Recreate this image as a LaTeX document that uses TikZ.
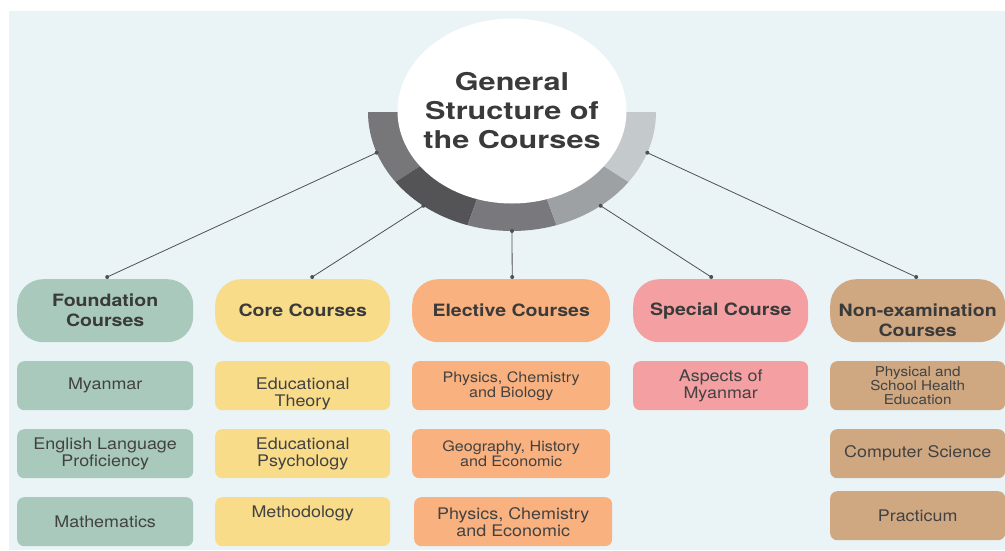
\documentclass[tikz,border=0pt]{standalone}
\usepackage{fontspec}
\setmainfont{TeX Gyre Heros}[FakeStretch=1.12]
\newfontfamily\hfont{TeX Gyre Heros}[FakeStretch=1.15]
\newfontfamily\tfont{TeX Gyre Heros}[FakeStretch=1.25]
\usetikzlibrary{shapes.geometric,calc}
\definecolor{bg}{HTML}{EAF4F6}
\definecolor{sA}{HTML}{77777A}
\definecolor{sB}{HTML}{545457}
\definecolor{sC}{HTML}{79797D}
\definecolor{sD}{HTML}{9EA1A4}
\definecolor{sE}{HTML}{C4C9CB}
\definecolor{cF}{HTML}{A8C9BB}
\definecolor{cC}{HTML}{F8DC8A}
\definecolor{cE}{HTML}{F8B17F}
\definecolor{cS}{HTML}{F4A0A3}
\definecolor{cN}{HTML}{CFA882}
\definecolor{txt}{HTML}{3A3A3A}
\definecolor{txtb}{HTML}{424242}
\definecolor{linec}{HTML}{505050}
\newcommand{\upstrut}[1]{\rule{0pt}{#1}}
\begin{document}
\begin{tikzpicture}[x=1pt,y=1pt,
  hdr/.style={rounded corners=26pt, minimum height=63pt, inner sep=0pt, anchor=north west, align=center, text=txt, font=\hfont\bfseries\fontsize{17}{20}\selectfont},
  sub/.style={rounded corners=7pt, minimum height=49pt, inner sep=0pt, anchor=north west, align=center, text=txtb, font=\fontsize{16}{17}\selectfont},
  small/.style={font=\fontsize{14.4}{15}\selectfont},
  tiny/.style={font=\fontsize{13.6}{14}\selectfont},
  conn/.style={draw=linec, line width=0.8pt},
  dot/.style={fill=linec}
]
\useasboundingbox (0,0) rectangle (1005,-550);
\fill[bg] (9,-11) rectangle (1005,-550);

% ring segments
\foreach \a/\c in {180/sA,216/sB,252/sC,288/sD,324/sE}{
  \pgfmathsetmacro\b{\a+36}
  \fill[\c] ({512+144*cos(\a)},{-112+119*sin(\a)}) arc[start angle=\a,end angle=\b,x radius=144pt,y radius=119pt]
    -- ({512+100*cos(\b)},{-112+80*sin(\b)}) arc[start angle=\b,end angle=\a,x radius=100pt,y radius=80pt] -- cycle;
}
\node[ellipse, fill=white, minimum width=229pt, minimum height=185pt, inner sep=0pt] (circ) at (512,-111) {};
\node[align=center, text=txt, inner sep=0pt,
  font=\tfont\bfseries\fontsize{24.5}{29}\selectfont] (title) at (circ.center) {General\\Structure of\\the Courses};

% ring anchor points
\coordinate (r1) at ({512+144*cos(200)},{-112+119*sin(200)});
\coordinate (r2) at ({512+144*cos(232)},{-112+119*sin(232)});
\coordinate (r3) at ({512+144*cos(270)},{-112+119*sin(270)});
\coordinate (r4) at ({512+144*cos(308)},{-112+119*sin(308)});
\coordinate (r5) at ({512+144*cos(340)},{-112+119*sin(340)});

% headers
\node[hdr, fill=cF, minimum width=176pt] (found) at (17,-279) {Foundation\\Courses};
\node[hdr, fill=cC, minimum width=175pt] (core) at (215,-279) {Core Courses};
\node[hdr, fill=cE, minimum width=198pt] (elec) at (412,-279) {Elective Courses};
\node[hdr, fill=cS, minimum width=175pt] (spec) at (633,-279) {Special Course};
\node[hdr, fill=cN, minimum width=175pt] (nonex) at (830,-279) {\upstrut{31pt}Non-examination\\Courses};

% column 1
\node[sub, fill=cF, minimum width=176pt] (f1) at (17,-361) {Myanmar};
\node[sub, fill=cF, minimum width=176pt] (f2) at (17,-429) {English Language\\Proficiency};
\node[sub, fill=cF, minimum width=176pt] (f3) at (17,-497) {Mathematics};
% column 2
\node[sub, fill=cC, minimum width=175pt] (c1) at (215,-361) {\upstrut{28pt}Educational\\Theory};
\node[sub, fill=cC, minimum width=175pt] (c2) at (215,-429) {Educational\\Psychology};
\node[sub, fill=cC, minimum width=175pt, text depth=20pt] (c3) at (215,-497) {Methodology};
% column 3
\node[sub, small, fill=cE, minimum width=198pt] (e1) at (412,-361) {Physics, Chemistry\\and Biology};
\node[sub, small, fill=cE, minimum width=198pt] (e2) at (412,-429) {Geography, History\\and Economic};
\node[sub, fill=cE, minimum width=198pt] (e3) at (414,-497) {Physics, Chemistry\\and Economic};
% column 4
\node[sub, fill=cS, minimum width=175pt] (s1) at (633,-361) {Aspects of\\Myanmar};
% column 5
\node[sub, tiny, fill=cN, minimum width=175pt] (n1) at (830,-361) {Physical and\\School Health\\Education};
\node[sub, fill=cN, minimum width=175pt] (n2) at (830,-429) {Computer Science};
\node[sub, fill=cN, minimum width=175pt] (n3) at (830,-491) {Practicum};

% connectors
\coordinate (h1) at ([xshift=2pt,yshift=2pt]found.north);
\coordinate (h2) at ([xshift=9.5pt,yshift=2pt]core.north);
\coordinate (h3) at ([xshift=1pt,yshift=2pt]elec.north);
\coordinate (h4) at ([xshift=-9.5pt,yshift=2pt]spec.north);
\coordinate (h5) at ([xshift=-1.5pt,yshift=2pt]nonex.north);
\foreach \i in {1,...,5}{
  \draw[conn] (r\i) -- (h\i);
  \fill[dot] (r\i) circle (2pt);
  \fill[dot] (h\i) circle (2pt);
}
\end{tikzpicture}
\end{document}
